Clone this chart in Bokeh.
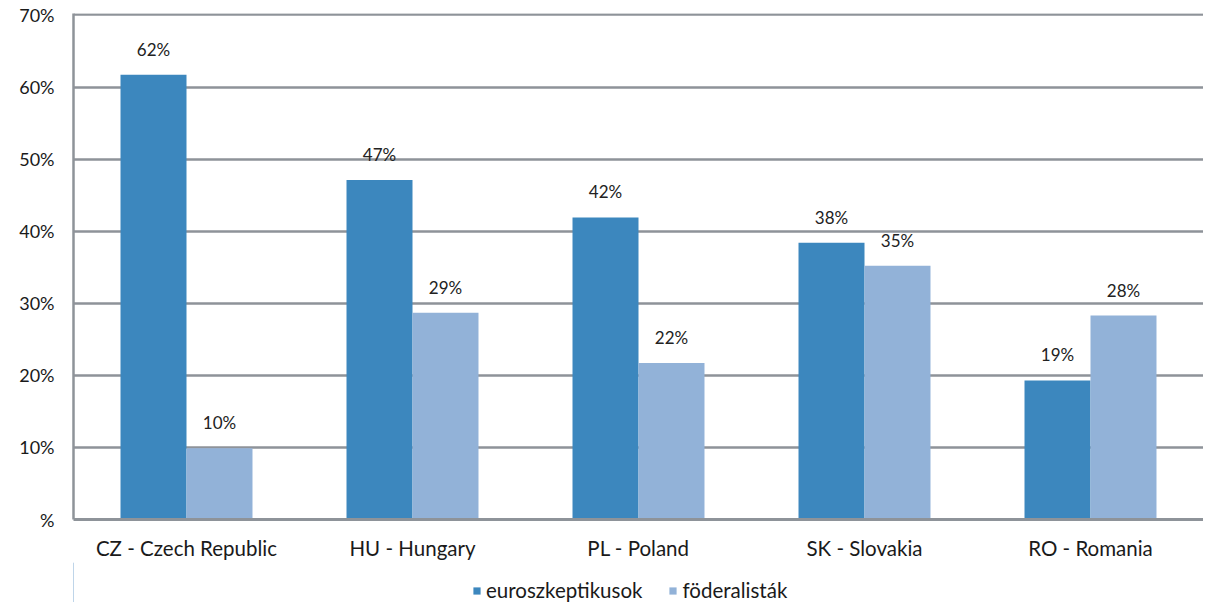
from bokeh.plotting import figure
from bokeh.layouts import column
from bokeh.models import ColumnDataSource, FactorRange, Range1d, Legend, LegendItem, FixedTicker, LabelSet
from bokeh.transform import dodge
from bokeh.embed import file_html
from bokeh.resources import INLINE
from bokeh.core.properties import value

categories = ["CZ - Czech Republic", "HU - Hungary", "PL - Poland", "SK - Slovakia", "RO - Romania"]
euroszkeptikusok = [61.7, 47.1, 41.9, 38.4, 19.3]
foderalistak = [9.9, 28.7, 21.7, 35.2, 28.3]
euro_labels = ["62%", "47%", "42%", "38%", "19%"]
fod_labels = ["10%", "29%", "22%", "35%", "28%"]
series_names = ["euroszkeptikusok", "föderalisták"]
y_ticks = [0, 10, 20, 30, 40, 50, 60, 70]
y_tick_labels = ["%", "10%", "20%", "30%", "40%", "50%", "60%", "70%"]

FONT = "Lato"
DARK = "#3c87be"
LIGHT = "#92b2d8"
GRID = "#8e9399"

src = ColumnDataSource(dict(cat=categories, e=euroszkeptikusok, f=foderalistak,
                            el=euro_labels, fl=fod_labels))

p = figure(x_range=FactorRange(factors=categories, range_padding=0),
           y_range=Range1d(0, 70.2),
           frame_width=1130, frame_height=506, output_backend="svg", toolbar_location=None,
           min_border_left=73, min_border_right=0, min_border_top=13, min_border_bottom=0)
p.outline_line_color = None

bw = 0.292
r1 = p.vbar(x=dodge("cat", -bw / 2, range=p.x_range), top="e", width=bw, source=src,
            fill_color=DARK, line_color=None)
r2 = p.vbar(x=dodge("cat", bw / 2, range=p.x_range), top="f", width=bw, source=src,
            fill_color=LIGHT, line_color=None)

lab1 = LabelSet(x=dodge("cat", -bw / 2, range=p.x_range), y="e", text="el", source=src,
                text_align="center", text_baseline="bottom", y_offset=15,
                text_font=value(FONT), text_font_size="17px", text_color="#222222")
lab2 = LabelSet(x=dodge("cat", bw / 2, range=p.x_range), y="f", text="fl", source=src,
                text_align="center", text_baseline="bottom", y_offset=15,
                text_font=value(FONT), text_font_size="17px", text_color="#222222")
p.add_layout(lab1)
p.add_layout(lab2)

p.xgrid.grid_line_color = None
p.ygrid.grid_line_color = GRID
p.ygrid.grid_line_width = 2.5
p.ygrid.ticker = FixedTicker(ticks=y_ticks)

p.yaxis.ticker = FixedTicker(ticks=y_ticks)
p.yaxis.major_label_overrides = {t: l for t, l in zip(y_ticks, y_tick_labels)}
p.yaxis.axis_line_color = GRID
p.yaxis.axis_line_width = 2.5
p.yaxis.major_tick_line_color = None
p.yaxis.minor_tick_line_color = None
p.yaxis.major_label_standoff = 13
p.yaxis.major_label_text_font = FONT
p.yaxis.major_label_text_font_size = "18px"
p.yaxis.major_label_text_color = "#1a1a1a"

p.xaxis.axis_line_color = GRID
p.xaxis.axis_line_width = 3
p.xaxis.major_tick_line_color = None
p.xaxis.minor_tick_line_color = None
p.xaxis.major_label_standoff = 10
p.xaxis.major_label_text_font = FONT
p.xaxis.major_label_text_font_size = "20.5px"
p.xaxis.major_label_text_color = "#1a1a1a"

# separate strip for the legend, placed under the chart
p2 = figure(width=1203, height=40, x_range=Range1d(0, 1), y_range=Range1d(0, 1),
            output_backend="svg", toolbar_location=None, min_border=0)
p2.axis.visible = False
p2.grid.grid_line_color = None
p2.outline_line_color = None
g1 = p2.vbar(x=[-5], top=[1], width=0.1, fill_color=DARK, line_color=None)
g2 = p2.vbar(x=[-5], top=[1], width=0.1, fill_color=LIGHT, line_color=None)

legend = Legend(items=[LegendItem(label=series_names[0], renderers=[g1]),
                       LegendItem(label=series_names[1], renderers=[g2])],
                orientation="horizontal", location=(399, 0),
                glyph_width=9, glyph_height=9, spacing=26, label_standoff=5,
                label_text_font=FONT, label_text_font_size="20.5px", label_text_color="#1a1a1a",
                border_line_color=None, background_fill_alpha=0, margin=0, padding=0)
p2.add_layout(legend, "center")

open("out.html", "w").write(file_html(column(p, p2, spacing=0), INLINE))
